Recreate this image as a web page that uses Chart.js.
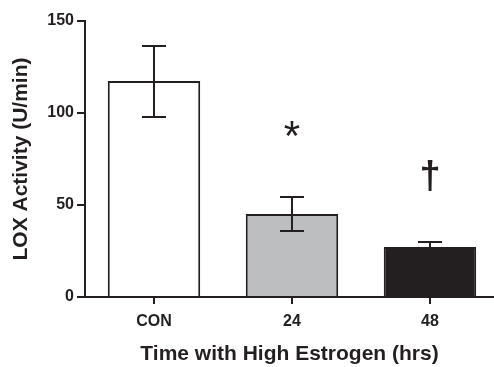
<!DOCTYPE html>
<html lang="en">
<head>
    <meta charset="UTF-8">
    <title>LOX Activity</title>
    <script src="https://cdn.jsdelivr.net/npm/chart.js"></script>
    <style>
        html, body { margin: 0; padding: 0; background: #fff; }
        #wrap { width: 494px; height: 367px; }
    </style>
</head>
<body>
    <div id="wrap"><canvas id="loxChart"></canvas></div>
    <script>
        // data
        const groups = ["CON", "24", "48"];
        const means = [117.4, 45.1, 27.2];
        const errUpper = [136.4, 54.3, 29.9];
        const errLower = [97.8, 35.9, 24.5];
        const marks = ["", "*", "\u2020"];
        const markAt = [0, 92, 65];
        const yTicks = [0, 50, 100, 150];

        const ink = '#231f20';
        const fills = ['#ffffff', '#bcbec0', '#231f20'];

        // error bars and significance marks
        const errorBars = {
            id: 'errorBars',
            afterDatasetsDraw(chart) {
                const ctx = chart.ctx;
                const xs = chart.scales.x, ys = chart.scales.y;
                ctx.save();
                ctx.strokeStyle = ink;
                ctx.lineWidth = 2;
                means.forEach((m, i) => {
                    const x = xs.getPixelForValue(i);
                    const yHi = ys.getPixelForValue(errUpper[i]);
                    const yLo = ys.getPixelForValue(errLower[i]);
                    ctx.beginPath();
                    ctx.moveTo(x, yHi); ctx.lineTo(x, yLo);
                    ctx.moveTo(x - 12, yHi); ctx.lineTo(x + 12, yHi);
                    ctx.moveTo(x - 12, yLo); ctx.lineTo(x + 12, yLo);
                    ctx.stroke();
                    if (marks[i]) {
                        ctx.fillStyle = ink;
                        ctx.textAlign = 'center';
                        ctx.textBaseline = 'middle';
                        ctx.font = marks[i] === '*' ? '42px "Liberation Sans"' : 'bold 38px "Liberation Sans"';
                        const dy = marks[i] === '*' ? 11 : 0;
                        ctx.fillText(marks[i], x, ys.getPixelForValue(markAt[i]) + dy);
                    }
                });
                ctx.restore();
            }
        };

        new Chart(document.getElementById('loxChart'), {
            type: 'bar',
            data: {
                datasets: [{
                    data: means.map((v, i) => ({ x: i, y: v })),
                    backgroundColor: fills,
                    borderColor: ink,
                    borderWidth: 2,
                    barPercentage: 1,
                    categoryPercentage: 0.67
                }]
            },
            options: {
                responsive: true,
                maintainAspectRatio: false,
                animation: false,
                layout: { padding: { top: 21, right: 0, left: 0, bottom: 0 } },
                plugins: { legend: { display: false }, tooltip: { enabled: false } },
                scales: {
                    x: {
                        type: 'linear',
                        min: -0.5,
                        max: 2.464,
                        offset: false,
                        afterBuildTicks: s => { s.ticks = groups.map((g, i) => ({ value: i })); },
                        afterFit: s => { s.height = 70; },
                        grid: { offset: false, drawOnChartArea: false, drawTicks: true, tickLength: 7, color: ink, lineWidth: 2 },
                        border: { display: true, color: ink, width: 2 },
                        ticks: {
                            autoSkip: false,
                            maxRotation: 0,
                            padding: 8,
                            color: ink,
                            font: { family: '"Liberation Sans"', size: 16, weight: 'bold' },
                            callback: v => groups[v] ?? ''
                        },
                        title: {
                            display: true,
                            text: 'Time with High Estrogen (hrs)',
                            color: ink,
                            padding: { top: 0, bottom: 0 },
                            font: { family: '"Liberation Sans"', size: 21, weight: 'bold' }
                        }
                    },
                    y: {
                        min: 0,
                        max: 150,
                        afterBuildTicks: s => { s.ticks = yTicks.map(v => ({ value: v })); },
                        afterFit: s => { s.width = 85; },
                        grid: { drawOnChartArea: false, drawTicks: true, tickLength: 8, color: ink, lineWidth: 2 },
                        border: { display: true, color: ink, width: 2 },
                        ticks: {
                            padding: 3,
                            color: ink,
                            font: { family: '"Liberation Sans"', size: 16, weight: 'bold' }
                        },
                        title: {
                            display: true,
                            text: 'LOX Activity (U/min)',
                            color: ink,
                            padding: { top: 9, bottom: 0 },
                            font: { family: '"Liberation Sans"', size: 21, weight: 'bold' }
                        }
                    }
                }
            },
            plugins: [errorBars]
        });
    </script>
</body>
</html>
